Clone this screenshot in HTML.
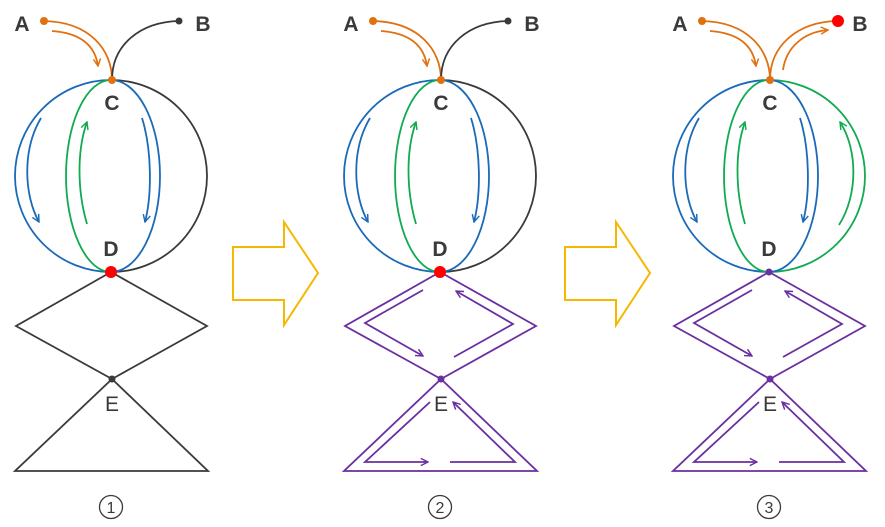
<!DOCTYPE html>
<html><head><meta charset="utf-8"><style>
html,body{margin:0;padding:0;background:#fff;}
svg{display:block;}
text{font-family:"Liberation Sans",sans-serif;fill:#3a3a3a;}
</style></head><body>
<svg width="885" height="527" viewBox="0 0 885 527" xmlns="http://www.w3.org/2000/svg">
<defs>
<marker id="mo" viewBox="0 0 10 10" refX="9" refY="5" markerWidth="9" markerHeight="9" markerUnits="userSpaceOnUse" orient="auto"><path d="M1,1 L9,5 L1,9" fill="none" stroke="#e07010" stroke-width="1.6"/></marker>
<marker id="mb" viewBox="0 0 10 10" refX="9" refY="5" markerWidth="9" markerHeight="9" markerUnits="userSpaceOnUse" orient="auto"><path d="M1,1 L9,5 L1,9" fill="none" stroke="#1a6ab8" stroke-width="1.6"/></marker>
<marker id="mg" viewBox="0 0 10 10" refX="9" refY="5" markerWidth="9" markerHeight="9" markerUnits="userSpaceOnUse" orient="auto"><path d="M1,1 L9,5 L1,9" fill="none" stroke="#10aa50" stroke-width="1.6"/></marker>
<marker id="mp" viewBox="0 0 10 10" refX="9" refY="5" markerWidth="9" markerHeight="9" markerUnits="userSpaceOnUse" orient="auto"><path d="M1,1 L9,5 L1,9" fill="none" stroke="#6a2fa0" stroke-width="1.6"/></marker>
</defs>
<g fill="none" stroke-width="1.8">
<!-- Panel 1 -->
<g>
<path d="M44,21 C90,22 112,50 112,80" stroke="#e07010"/>
<path d="M52,31 C80,33 95,45 98,66" stroke="#e07010" marker-end="url(#mo)"/>
<path d="M179,21 C140,22 112,45 112,80" stroke="#3a3a3a"/>
<path d="M111,80 A96,96 0 0 0 111,272" stroke="#1a6ab8"/>
<path d="M111,80 A96,96 0 0 1 111,272" stroke="#3a3a3a"/>
<path d="M111,80 A45,96 0 0 0 111,272" stroke="#10aa50"/>
<path d="M111,80 A49,96 0 0 1 111,272" stroke="#1a6ab8"/>
<path d="M41,118 C22,150 24,195 39,222" stroke="#1a6ab8" marker-end="url(#mb)"/>
<path d="M87,224 C77,190 77,150 87,122" stroke="#10aa50" marker-end="url(#mg)"/>
<path d="M142,118 C152,150 152,195 145,222" stroke="#1a6ab8" marker-end="url(#mb)"/>
<path d="M111,272 L16,326 L112,379 L207,326 Z" stroke="#3a3a3a"/>
<path d="M112,379 L15,471 L208,471 Z" stroke="#3a3a3a"/>
</g>
<!-- Panel 2 -->
<g transform="translate(329,0)">
<path d="M44,21 C90,22 112,50 112,80" stroke="#e07010"/>
<path d="M52,31 C80,33 95,45 98,66" stroke="#e07010" marker-end="url(#mo)"/>
<path d="M179,21 C140,22 112,45 112,80" stroke="#3a3a3a"/>
<path d="M111,80 A96,96 0 0 0 111,272" stroke="#1a6ab8"/>
<path d="M111,80 A96,96 0 0 1 111,272" stroke="#3a3a3a"/>
<path d="M111,80 A45,96 0 0 0 111,272" stroke="#10aa50"/>
<path d="M111,80 A49,96 0 0 1 111,272" stroke="#1a6ab8"/>
<path d="M41,118 C22,150 24,195 39,222" stroke="#1a6ab8" marker-end="url(#mb)"/>
<path d="M87,224 C77,190 77,150 87,122" stroke="#10aa50" marker-end="url(#mg)"/>
<path d="M142,118 C152,150 152,195 145,222" stroke="#1a6ab8" marker-end="url(#mb)"/>
<path d="M111,272 L16,326 L112,379 L207,326 Z" stroke="#6a2fa0"/>
<path d="M112,379 L15,471 L208,471 Z" stroke="#6a2fa0"/>
<path d="M94,290 L36,323 L94,356" stroke="#6a2fa0" marker-end="url(#mp)"/>
<path d="M125,357 L184,324 L127,291" stroke="#6a2fa0" marker-end="url(#mp)"/>
<path d="M101,402 L36,462 L99,462" stroke="#6a2fa0" marker-end="url(#mp)"/>
<path d="M121,462 L186,462 L124,402" stroke="#6a2fa0" marker-end="url(#mp)"/>
</g>
<!-- Panel 3 -->
<g transform="translate(658,0)">
<path d="M44,21 C90,22 112,50 112,80" stroke="#e07010"/>
<path d="M52,31 C80,33 95,45 98,66" stroke="#e07010" marker-end="url(#mo)"/>
<path d="M179,21 C140,22 112,45 112,80" stroke="#e07010"/>
<path d="M125,70 C128,48 145,32 170,30" stroke="#e07010" marker-end="url(#mo)"/>
<path d="M111,80 A96,96 0 0 0 111,272" stroke="#1a6ab8"/>
<path d="M111,80 A96,96 0 0 1 111,272" stroke="#10aa50"/>
<path d="M111,80 A45,96 0 0 0 111,272" stroke="#10aa50"/>
<path d="M111,80 A49,96 0 0 1 111,272" stroke="#1a6ab8"/>
<path d="M41,118 C22,150 24,195 39,222" stroke="#1a6ab8" marker-end="url(#mb)"/>
<path d="M87,224 C77,190 77,150 87,122" stroke="#10aa50" marker-end="url(#mg)"/>
<path d="M142,118 C152,150 152,195 145,222" stroke="#1a6ab8" marker-end="url(#mb)"/>
<path d="M181,225 C200,195 200,150 182,122" stroke="#10aa50" marker-end="url(#mg)"/>
<path d="M111,272 L16,326 L112,379 L207,326 Z" stroke="#6a2fa0"/>
<path d="M112,379 L15,471 L208,471 Z" stroke="#6a2fa0"/>
<path d="M94,290 L36,323 L94,356" stroke="#6a2fa0" marker-end="url(#mp)"/>
<path d="M125,357 L184,324 L127,291" stroke="#6a2fa0" marker-end="url(#mp)"/>
<path d="M101,402 L36,462 L99,462" stroke="#6a2fa0" marker-end="url(#mp)"/>
<path d="M121,462 L186,462 L124,402" stroke="#6a2fa0" marker-end="url(#mp)"/>
</g>
<!-- big arrows -->
<path d="M233,247 L284,247 L284,222 L318,273 L284,325 L284,300 L233,300 Z" stroke="#f5b800" stroke-width="2"/>
<path d="M565,247 L616,247 L616,222 L650,273 L616,325 L616,300 L565,300 Z" stroke="#f5b800" stroke-width="2"/>
</g>
<!-- dots -->
<g>
<circle cx="44" cy="21" r="4" fill="#e07010"/><circle cx="179" cy="21" r="3.5" fill="#3a3a3a"/>
<circle cx="112" cy="80" r="4" fill="#e07010"/><circle cx="111" cy="272" r="6" fill="#ff0000"/>
<circle cx="112" cy="379" r="3.5" fill="#3a3a3a"/>
<circle cx="373" cy="21" r="4" fill="#e07010"/><circle cx="508" cy="21" r="3.5" fill="#3a3a3a"/>
<circle cx="441" cy="80" r="4" fill="#e07010"/><circle cx="440" cy="272" r="6" fill="#ff0000"/>
<circle cx="441" cy="379" r="3.5" fill="#6a2fa0"/>
<circle cx="702" cy="21" r="4" fill="#e07010"/><circle cx="838" cy="21" r="6" fill="#ff0000"/>
<circle cx="770" cy="80" r="4" fill="#e07010"/><circle cx="769" cy="272" r="3.5" fill="#6a2fa0"/>
<circle cx="770" cy="379" r="3.5" fill="#6a2fa0"/>
</g>
<g font-size="21" font-weight="bold" text-anchor="middle">
<text x="22" y="31">A</text><text x="203" y="31">B</text><text x="112" y="110">C</text><text x="111" y="256">D</text>
<text x="351" y="31">A</text><text x="532" y="31">B</text><text x="441" y="110">C</text><text x="440" y="256">D</text>
<text x="680" y="31">A</text><text x="860" y="31">B</text><text x="770" y="110">C</text><text x="769" y="256">D</text>
</g>
<g font-size="21" text-anchor="middle">
<text x="112" y="411">E</text><text x="441" y="411">E</text><text x="770" y="411">E</text>
</g>
<g fill="none" stroke="#3a3a3a" stroke-width="1.3">
<circle cx="111" cy="507" r="11.5"/><circle cx="440" cy="507" r="11.5"/><circle cx="769" cy="507" r="11.5"/>
</g>
<g font-size="16" text-anchor="middle">
<text x="111" y="513">1</text><text x="440" y="513">2</text><text x="769" y="513">3</text>
</g>
</svg>
</body></html>
